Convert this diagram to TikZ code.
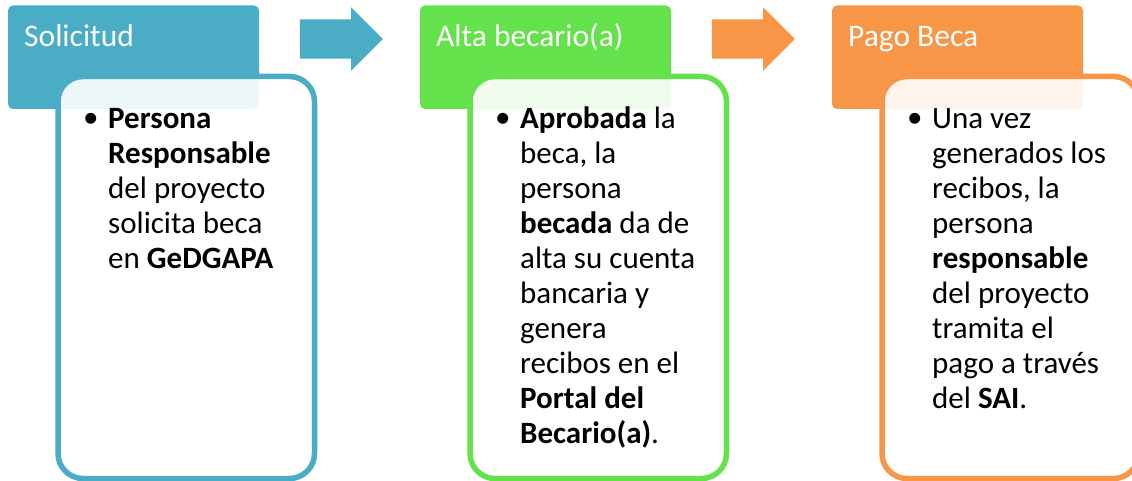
\documentclass[tikz,border=0pt]{standalone}
\usepackage{fontspec}
\setmainfont{Carlito}
\usepackage{xcolor}
\usepackage{tikz}
\usetikzlibrary{positioning}
\usetikzlibrary{shapes,arrows}
\definecolor{azul}{HTML}{4BACC6}
\definecolor{verde}{HTML}{63E24B}
\definecolor{naranja}{HTML}{F79646}
\tikzstyle{titulo} = [rectangle, rounded corners=5pt, minimum width=251pt,
minimum height=103.5pt, inner sep=0pt, outer sep=0pt]
\tikzstyle{cuerpo} = [rectangle, draw, line width=5.5pt, rounded corners=25pt,
fill=white, fill opacity=0.9, minimum width=256.5pt, minimum height=402pt,
inner sep=0pt, outer sep=0pt]
\tikzstyle{etiqueta} = [anchor=base west, inner sep=0pt, text=white,
font=\fontsize{31.5}{38}\selectfont]
\tikzstyle{lista} = [anchor=base west, inner sep=0pt, align=left,
font=\fontsize{31}{35}\selectfont]
\tikzstyle{punto} = [anchor=base west, inner sep=0pt,
font=\fontsize{31}{35}\selectfont]
\tikzstyle{flecha} = [single arrow, single arrow head extend=12pt,
minimum height=83pt, inner xsep=0pt, inner ysep=19.5pt, outer sep=0pt]

\begin{document}
\begin{tikzpicture}[x=1pt, y=-1pt]
    \useasboundingbox (0,0) rectangle (1132,481);
    % nodes
    \node [titulo, fill=azul] (sol) at (133.5,57.25) {};
    \node [titulo, fill=verde] (alta) at (545.5,57.25) {};
    \node [titulo, fill=naranja] (pago) at (957.5,57.25) {};
    \node [cuerpo, draw=azul] (solc) at (186.25,277.5) {};
    \node [cuerpo, draw=verde] (altac) at (598.25,277.5) {};
    \node [cuerpo, draw=naranja] (pagoc) at (1010.25,277.5) {};
    \node [etiqueta] (solt) at (24,47) {Solicitud};
    \node [etiqueta] (altat) at (436,47) {Alta becario(a)};
    \node [etiqueta] (pagot) at (848,47) {Pago Beca};
    \node [flecha, fill=azul] (f1) at (331.5,39) {};
    \node [flecha, fill=naranja] (f2) at (743.5,39) {};

    % texts (anchored at the last line)
    \node [punto] (b1) at (83,128) {•};
    \node [lista] (solx) at (108,268) {\textbf{Persona}\\ \textbf{Responsable}\\
      del proyecto\\ solicita beca\\ en \textbf{GeDGAPA}};
    \node [punto] (b2) at (495,128) {•};
    \node [lista] (altax) at (520,443) {\textbf{Aprobada} la\\ beca, la\\ persona\\
      \textbf{becada} da de\\ alta su cuenta\\ bancaria y\\ genera\\
      recibos en el\\ \textbf{Portal del}\\ \textbf{Becario(a)}.};
    \node [punto] (b3) at (907,128) {•};
    \node [lista] (pagox) at (932,408) {Una vez\\ generados los\\ recibos, la\\
      persona\\ \textbf{responsable}\\ del proyecto\\ tramita el\\
      pago a través\\ del \textbf{SAI}.};
\end{tikzpicture}
\end{document}
